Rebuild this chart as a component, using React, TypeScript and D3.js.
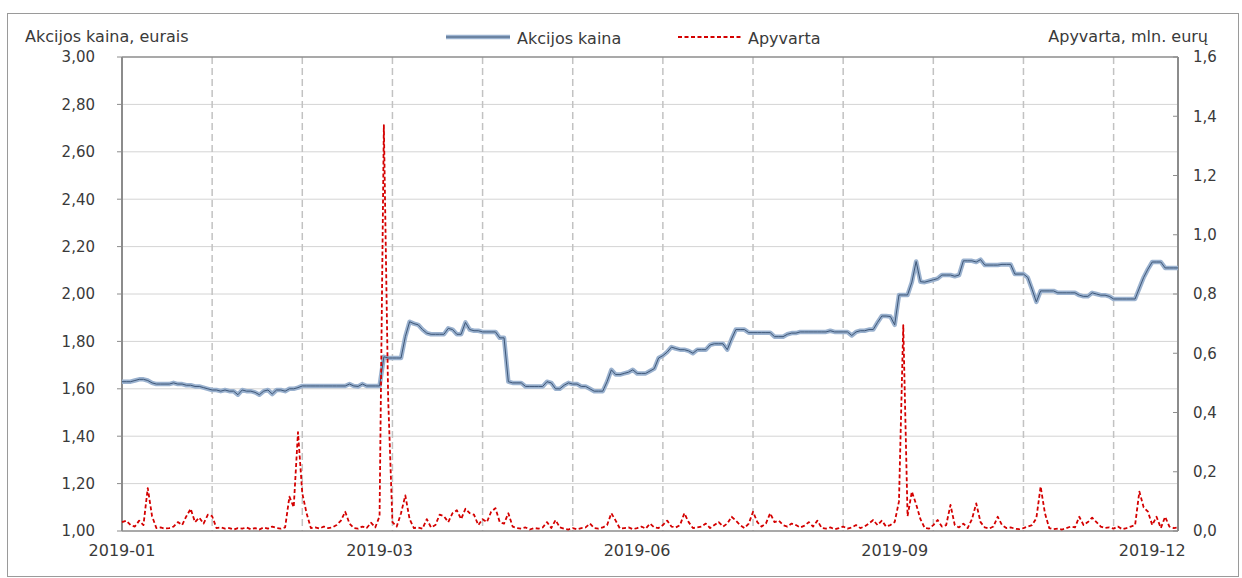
import * as d3 from "d3";

// Akcijos kaina (eur) per trading day, 2019
const price = [
  1.63, 1.63, 1.63, 1.635, 1.64, 1.64, 1.635, 1.625, 1.62, 1.62,
  1.62, 1.62, 1.625, 1.62, 1.62, 1.615, 1.615, 1.61, 1.61, 1.605,
  1.6, 1.595, 1.595, 1.59, 1.595, 1.59, 1.59, 1.575, 1.595, 1.59,
  1.59, 1.585, 1.575, 1.59, 1.595, 1.578, 1.595, 1.595, 1.59, 1.6,
  1.6, 1.605, 1.612, 1.612, 1.612, 1.612, 1.612, 1.612, 1.612, 1.612,
  1.612, 1.612, 1.612, 1.62, 1.612, 1.61, 1.62, 1.612, 1.612, 1.612,
  1.612, 1.735, 1.73, 1.73, 1.73, 1.73, 1.82, 1.883, 1.875, 1.87,
  1.85, 1.835, 1.83, 1.83, 1.83, 1.83, 1.855, 1.85, 1.83, 1.83,
  1.88, 1.85, 1.845, 1.845, 1.84, 1.84, 1.84, 1.84, 1.815, 1.815,
  1.63, 1.625, 1.625, 1.625, 1.61, 1.61, 1.61, 1.61, 1.61, 1.63,
  1.625, 1.6, 1.6, 1.615, 1.625, 1.62, 1.62, 1.61, 1.61, 1.6,
  1.59, 1.59, 1.59, 1.63, 1.68, 1.66, 1.66, 1.665, 1.67, 1.68,
  1.665, 1.665, 1.665, 1.675, 1.685, 1.73, 1.74, 1.755, 1.776, 1.77,
  1.765, 1.765, 1.76, 1.75, 1.765, 1.765, 1.765, 1.785, 1.79, 1.79,
  1.79, 1.765, 1.81, 1.85, 1.85, 1.85, 1.837, 1.837, 1.837, 1.837,
  1.837, 1.837, 1.82, 1.82, 1.82, 1.83, 1.835, 1.835, 1.84, 1.84,
  1.84, 1.84, 1.84, 1.84, 1.84, 1.845, 1.84, 1.84, 1.84, 1.84,
  1.825, 1.84, 1.845, 1.845, 1.85, 1.85, 1.88, 1.907, 1.907, 1.905,
  1.87, 1.996, 1.996, 1.996, 2.05, 2.137, 2.052, 2.05, 2.055, 2.06,
  2.065, 2.08, 2.08, 2.08, 2.075, 2.08, 2.14, 2.14, 2.14, 2.135,
  2.145, 2.122, 2.122, 2.122, 2.122, 2.125, 2.125, 2.125, 2.084, 2.084,
  2.084, 2.07, 2.02, 1.967, 2.013, 2.013, 2.013, 2.013, 2.005, 2.005,
  2.005, 2.005, 2.005, 1.995, 1.99, 1.99, 2.005, 2.0, 1.995, 1.995,
  1.99, 1.979, 1.979, 1.979, 1.979, 1.979, 1.979, 2.025, 2.07, 2.105,
  2.135, 2.135, 2.135, 2.11, 2.11, 2.11, 2.11,
];

// Apyvarta (mln. eur) per trading day
const turnover = [
  0.03, 0.035, 0.02, 0.015, 0.035, 0.02, 0.145, 0.05, 0.01, 0.012,
  0.008, 0.01, 0.015, 0.03, 0.02, 0.05, 0.075, 0.03, 0.045, 0.025,
  0.055, 0.05, 0.01, 0.012, 0.008, 0.01, 0.005, 0.01, 0.008, 0.012,
  0.006, 0.01, 0.005, 0.012, 0.008, 0.015, 0.01, 0.008, 0.012, 0.116,
  0.08, 0.334, 0.127, 0.06, 0.01, 0.012, 0.008, 0.015, 0.01, 0.012,
  0.02, 0.035, 0.065, 0.025, 0.01, 0.008, 0.015, 0.01, 0.028, 0.012,
  0.05, 1.37, 0.45, 0.03, 0.015, 0.06, 0.12, 0.04, 0.01, 0.012,
  0.008, 0.04, 0.012, 0.02, 0.055, 0.05, 0.03, 0.06, 0.07, 0.04,
  0.075, 0.06, 0.055, 0.02, 0.04, 0.03, 0.065, 0.077, 0.03, 0.025,
  0.06, 0.015, 0.01, 0.008, 0.012, 0.005, 0.01, 0.008, 0.012, 0.03,
  0.01, 0.037, 0.012, 0.008, 0.005, 0.01, 0.006, 0.01, 0.012, 0.025,
  0.01, 0.008, 0.012, 0.02, 0.06, 0.035, 0.008, 0.01, 0.012, 0.006,
  0.01, 0.015, 0.008, 0.025, 0.012, 0.01, 0.02, 0.035, 0.015, 0.012,
  0.02, 0.06, 0.03, 0.01, 0.012, 0.015, 0.025, 0.01, 0.02, 0.03,
  0.015, 0.025, 0.048, 0.035, 0.02, 0.01, 0.025, 0.065, 0.03, 0.015,
  0.025, 0.06, 0.03, 0.035, 0.02, 0.015, 0.025, 0.02, 0.012, 0.018,
  0.03, 0.015, 0.035, 0.01, 0.008, 0.012, 0.006, 0.01, 0.015, 0.008,
  0.012, 0.02, 0.01, 0.015, 0.025, 0.037, 0.02, 0.035, 0.015, 0.02,
  0.03, 0.1, 0.695, 0.05, 0.133, 0.09, 0.04, 0.01, 0.008, 0.02,
  0.037, 0.015, 0.02, 0.088, 0.02, 0.012, 0.025, 0.01, 0.04, 0.093,
  0.03, 0.012, 0.008, 0.015, 0.048, 0.02, 0.01, 0.012, 0.008, 0.006,
  0.01, 0.015, 0.02, 0.043, 0.15, 0.06, 0.01, 0.006, 0.008, 0.005,
  0.01, 0.015, 0.012, 0.048, 0.02, 0.03, 0.045, 0.03, 0.015, 0.01,
  0.012, 0.008, 0.015, 0.006, 0.01, 0.015, 0.02, 0.133, 0.08, 0.065,
  0.02, 0.048, 0.01, 0.048, 0.015, 0.01, 0.012,
];

const xTickIdx = [0, 60, 120, 180, 240];
const xTickLabels = ["2019-01", "2019-03", "2019-06", "2019-09", "2019-12"];
const leftTicks = [1.0, 1.2, 1.4, 1.6, 1.8, 2.0, 2.2, 2.4, 2.6, 2.8, 3.0];
const rightTicks = [0.0, 0.2, 0.4, 0.6, 0.8, 1.0, 1.2, 1.4, 1.6];
const gridEvery = 21;

const FONT = "'DejaVu Sans', Verdana, sans-serif";
const TXT = "#3a3a3a";
const OUTER = "#9bb2cf";
const INNER = "#3d5677";
const RED = "#d40000";

export default function App() {
  const width = 1242;
  const height = 578;
  const M = { left: 122, right: 1178, top: 57, bottom: 531 };

  const x = d3.scaleLinear().domain([0, price.length - 1]).range([M.left, M.right]);
  const yL = d3.scaleLinear().domain([1, 3]).range([M.bottom, M.top]);
  const yR = d3.scaleLinear().domain([0, 1.6]).range([M.bottom, M.top]);

  const priceLine = d3.line<number>().x((_, i) => x(i)).y((d) => yL(d))(price) || "";
  const turnLine = d3.line<number>().x((_, i) => x(i)).y((d) => yR(d))(turnover) || "";

  const fmtL = (v: number) => d3.format(".2f")(v).replace(".", ",");
  const fmtR = (v: number) => d3.format(".1f")(v).replace(".", ",");

  const gridIdx: number[] = [];
  for (let i = gridEvery; i < price.length - 1; i += gridEvery) gridIdx.push(i);

  return (
    <svg width={width} height={height} style={{ position: "absolute", left: 0, top: 0, background: "#fff" }}>
      <rect x={7.5} y={13.5} width={1231} height={563} fill="#fff" stroke="#9a9a9a" />

      {/* horizontal grid */}
      {leftTicks.slice(1, -1).map((t) => (
        <line key={"h" + t} x1={M.left} x2={M.right} y1={yL(t)} y2={yL(t)} stroke="#d4d4d4" strokeWidth={1} />
      ))}
      {/* vertical dashed grid */}
      {gridIdx.map((i) => (
        <line key={"v" + i} x1={x(i)} x2={x(i)} y1={M.top} y2={M.bottom} stroke="#c2c2c2" strokeWidth={1.5} strokeDasharray="7,4" />
      ))}

      {/* plot frame / axes */}
      <line x1={M.left} x2={M.right} y1={M.top} y2={M.top} stroke="#8c8c8c" strokeWidth={1.5} />
      <line x1={M.left} x2={M.right} y1={M.bottom} y2={M.bottom} stroke="#8c8c8c" strokeWidth={1.5} />
      <line x1={M.left} x2={M.left} y1={M.top} y2={M.bottom} stroke="#8c8c8c" strokeWidth={2} />
      <line x1={M.right} x2={M.right} y1={M.top} y2={M.bottom} stroke="#8c8c8c" strokeWidth={2} />

      {/* left axis */}
      {leftTicks.map((t) => (
        <g key={"l" + t}>
          <line x1={M.left - 5} x2={M.left} y1={yL(t)} y2={yL(t)} stroke="#8c8c8c" />
          <text x={95} y={yL(t)} dy="0.36em" textAnchor="end" fontFamily={FONT} fontSize={15} fill={TXT}>
            {fmtL(t)}
          </text>
        </g>
      ))}
      {/* right axis */}
      {rightTicks.map((t) => (
        <g key={"r" + t}>
          <line x1={M.right - 5} x2={M.right} y1={yR(t)} y2={yR(t)} stroke="#8c8c8c" />
          <text x={1193} y={yR(t)} dy="0.36em" textAnchor="start" fontFamily={FONT} fontSize={15} fill={TXT}>
            {fmtR(t)}
          </text>
        </g>
      ))}
      {/* x axis labels */}
      {xTickIdx.map((i, k) => (
        <text key={"x" + i} x={x(i)} y={556} textAnchor="middle" fontFamily={FONT} fontSize={16} fill={TXT}>
          {xTickLabels[k]}
        </text>
      ))}

      {/* axis titles */}
      <text x={25} y={42} fontFamily={FONT} fontSize={16} fill={TXT}>Akcijos kaina, eurais</text>
      <text x={1208} y={42} textAnchor="end" fontFamily={FONT} fontSize={16} fill={TXT}>Apyvarta, mln. eurų</text>

      {/* legend */}
      <line x1={446} x2={510} y1={37} y2={37} stroke={OUTER} strokeWidth={4.5} />
      <line x1={446} x2={510} y1={37} y2={37} stroke={INNER} strokeWidth={1} />
      <text x={517} y={44} fontFamily={FONT} fontSize={16} fill={TXT}>Akcijos kaina</text>
      <line x1={678} x2={742} y1={37} y2={37} stroke={RED} strokeWidth={1.8} strokeDasharray="4,2.5" />
      <text x={748} y={44} fontFamily={FONT} fontSize={16} fill={TXT}>Apyvarta</text>

      {/* series */}
      <path d={priceLine} fill="none" stroke={OUTER} strokeWidth={4.5} strokeLinejoin="round" />
      <path d={priceLine} fill="none" stroke={INNER} strokeWidth={1} strokeLinejoin="round" />
      <path d={turnLine} fill="none" stroke={RED} strokeWidth={1.8} strokeDasharray="4,2.5" strokeLinejoin="round" />
    </svg>
  );
}
